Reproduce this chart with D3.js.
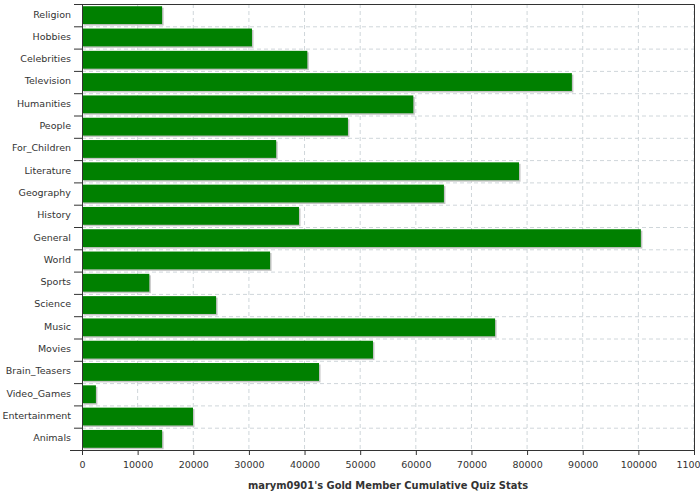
<!DOCTYPE html>
<html>
<head>
<meta charset="utf-8">
<script src="https://cdn.jsdelivr.net/npm/d3@7"></script>
<style>
  body { margin: 0; background: #fff; }
  text { font-family: "DejaVu Sans", sans-serif; fill: #333; }
</style>
</head>
<body>
<script>
// data
var categories = ['Religion', 'Hobbies', 'Celebrities', 'Television', 'Humanities', 'People',
    'For_Children', 'Literature', 'Geography', 'History', 'General', 'World', 'Sports',
    'Science', 'Music', 'Movies', 'Brain_Teasers', 'Video_Games', 'Entertainment', 'Animals']
var values = [14400, 30550, 40500, 88050, 59550, 47800, 34900, 78550, 65050, 39000,
    100450, 33800, 12100, 24100, 74250, 52300, 42600, 2500, 19950, 14400]
var xTicks = [0, 10000, 20000, 30000, 40000, 50000, 60000, 70000, 80000, 90000, 100000, 110000]
var title = "marym0901's Gold Member Cumulative Quiz Stats"

var data = categories.map((c, i) => ({ name: c, value: values[i] }))

var margin = { top: 4, right: 6, bottom: 50, left: 82 },
    width = 700 - margin.left - margin.right,
    height = 500 - margin.top - margin.bottom

var svg = d3.select('body').append('svg')
    .attr('width', 700)
    .attr('height', 500)

var g = svg.append('g')
    .attr('transform', `translate(${margin.left}, ${margin.top})`)

// scales
var x = d3.scaleLinear().domain([0, 110000]).range([0, width])
var y = d3.scaleBand().domain(categories).range([0, height])
    .paddingInner(0.2).paddingOuter(0.1)

var step = y.step()
var boundaries = d3.range(categories.length + 1).map(i => i * step)

// grid
g.append('g')
    .selectAll('line')
    .data(xTicks.slice(1))
    .enter()
    .append('line')
    .attr('x1', d => x(d)).attr('x2', d => x(d))
    .attr('y1', 0).attr('y2', height)
    .attr('stroke', '#cfd6da')
    .attr('stroke-dasharray', '4,3')

g.append('g')
    .selectAll('line')
    .data(boundaries.slice(1, -1))
    .enter()
    .append('line')
    .attr('x1', 0).attr('x2', width)
    .attr('y1', d => d + 0.5).attr('y2', d => d + 0.5)
    .attr('stroke', '#cfd6da')
    .attr('stroke-dasharray', '4,3')

// bar shadows then bars
g.append('g')
    .selectAll('rect')
    .data(data)
    .enter()
    .append('rect')
    .attr('x', 1.5)
    .attr('y', d => y(d.name) + 1.5)
    .attr('width', d => x(d.value))
    .attr('height', y.bandwidth())
    .attr('fill', '#c4c4c4')

g.append('g')
    .selectAll('rect')
    .data(data)
    .enter()
    .append('rect')
    .attr('x', 0)
    .attr('y', d => y(d.name))
    .attr('width', d => x(d.value))
    .attr('height', y.bandwidth())
    .attr('fill', '#008000')

// frame top / right
g.append('path')
    .attr('d', `M0,0.5H${width + 0.5}V${height}`)
    .attr('fill', 'none')
    .attr('stroke', '#333')

// left axis: labels centred on bands, ticks on boundaries
var yAxis = g.append('g')
    .call(d3.axisLeft(y).tickSize(0).tickPadding(11))
yAxis.select('.domain').attr('stroke', '#333')
yAxis.selectAll('text')
    .style('font-size', '9.5px')
    .attr('dy', '0.25em')
    .attr('fill', '#333')

g.append('g')
    .selectAll('line')
    .data(boundaries)
    .enter()
    .append('line')
    .attr('x1', -8).attr('x2', 0)
    .attr('y1', d => d + 0.5).attr('y2', d => d + 0.5)
    .attr('stroke', '#333')

// bottom axis (last label is clipped at the edge, as in the original)
var xAxis = g.append('g')
    .attr('transform', `translate(0, ${height})`)
    .call(d3.axisBottom(x).tickValues(xTicks).tickFormat(d3.format('d')).tickSize(5).tickPadding(6))
xAxis.select('.domain').attr('stroke', '#333').attr('d', `M-12,0.5H${width + 0.5}`)
xAxis.selectAll('.tick line').attr('stroke', '#333')
xAxis.selectAll('text')
    .style('font-size', '9.5px')
    .attr('fill', '#333')

// axis title
svg.append('text')
    .attr('x', margin.left + width / 2)
    .attr('y', 489)
    .attr('text-anchor', 'middle')
    .style('font-size', '11px')
    .style('font-weight', 'bold')
    .style('font-stretch', 'condensed')
    .text(title)
</script>
</body>
</html>
